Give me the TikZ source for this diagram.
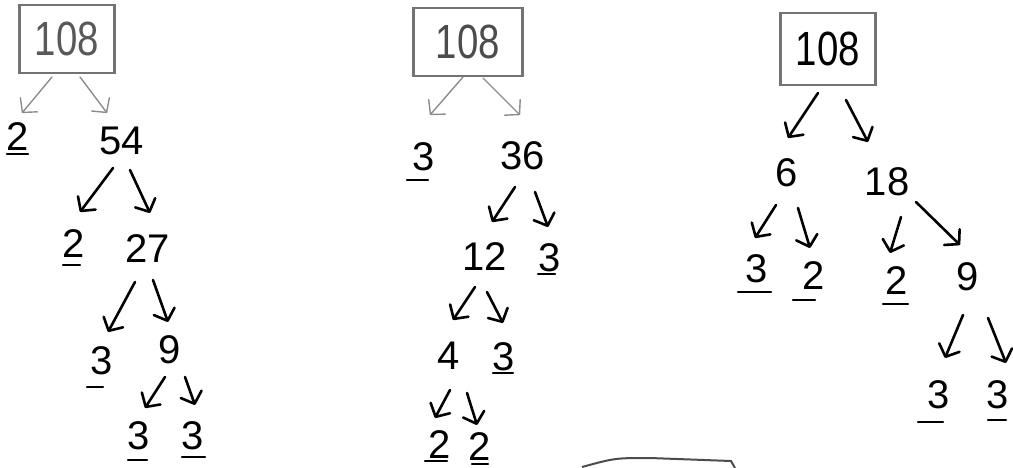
\documentclass[tikz,border=0pt]{standalone}
\usepackage{fontspec}
\setmainfont{Liberation Sans}
\newfontfamily\boxfont[FakeStretch=0.8]{Liberation Sans}
\usetikzlibrary{arrows.meta, calc}

\begin{document}
\begin{tikzpicture}[x=1pt, y=-1pt,
  num/.style={font=\fontsize{40}{40}\selectfont, inner sep=0pt},
  topbox/.style={draw=black!55, line width=2.4pt, font=\boxfont\fontsize{48}{48}\selectfont, minimum width=95pt, minimum height=68pt, inner sep=0pt},
  arr/.style={draw=black, line width=2.6pt, line cap=round, -{Straight Barb[round, length=10pt, width=22pt]}},
  faint/.style={arr, draw=black!45, line width=1.4pt},
  uline/.style={draw=black, line width=2.4pt, line cap=round},
  edge/.style={draw=black!70, line width=2pt}]
  \useasboundingbox (0,0) rectangle (1013,468);
  \clip (0,0) rectangle (1013,468);
  % first tree
  \node[topbox, text=black!65] (b1) at (67,39) {108};
  \node[num] (p2a) at (18,137) {2};
  \node[num] (n54) at (122,141) {54};
  \node[num] (p2b) at (74,244) {2};
  \node[num] (n27) at (148,249) {27};
  \node[num] (p3a) at (102,361) {3};
  \node[num] (n9a) at (170,350) {9};
  \node[num] (p3b) at (139,436) {3};
  \node[num] (p3c) at (193,436) {3};
  \draw[faint] ($(b1)+(-15,38)$) -- ($(p2a)+(4,-24)$);
  \draw[faint] ($(b1)+(13,38)$) -- ($(n54)+(-15,-28)$);
  \draw[arr] ($(n54)+(-9,27)$) -- ($(p2b)+(6,-32)$);
  \draw[arr] ($(n54)+(8,29)$) -- ($(n27)+(2,-36)$);
  \draw[arr] ($(n27)+(-13,33)$) -- ($(p3a)+(6,-29)$);
  \draw[arr] ($(n27)+(5,31)$) -- ($(n9a)+(-2,-28)$);
  \draw[arr] ($(n9a)+(-5,27)$) -- ($(p3b)+(6,-28)$);
  \draw[arr] ($(n9a)+(15,27)$) -- ($(p3c)+(2,-31)$);
  % second tree
  \node[topbox, text=black!70, minimum width=109pt] (b2) at (468,42) {108};
  \node[num] (p3d) at (424,157) {3};
  \node[num] (n36) at (523,156) {36};
  \node[num] (n12) at (485,257) {12};
  \node[num] (p3e) at (550,258) {3};
  \node[num] (n4) at (449,356) {4};
  \node[num] (p3f) at (504,357) {3};
  \node[num] (p2c) at (440,445) {2};
  \node[num] (p2d) at (480,447) {2};
  \draw[faint] ($(b2)+(-5,35)$) -- ($(p3d)+(6,-42)$);
  \draw[faint] ($(b2)+(15,36)$) -- ($(n36)+(-3,-41)$);
  \draw[arr] ($(n36)+(-8,31)$) -- ($(n12)+(7,-35)$);
  \draw[arr] ($(n36)+(12,36)$) -- ($(p3e)+(-2,-31)$);
  \draw[arr] ($(n12)+(-10,30)$) -- ($(n4)+(4,-36)$);
  \draw[arr] ($(n12)+(2,35)$) -- ($(p3f)+(-1,-34)$);
  \draw[arr] ($(n4)+(1,34)$) -- ($(p2c)+(-5,-27)$);
  \draw[arr] ($(n4)+(18,37)$) -- ($(p2d)+(-3,-22)$);
  % third tree
  \node[topbox, minimum height=72pt] (b3) at (828,49) {108};
  \node[num] (n6) at (787,173) {6};
  \node[num] (n18) at (887,182) {18};
  \node[num] (p3g) at (757,269) {3};
  \node[num] (p2e) at (814,276) {2};
  \node[num] (p2f) at (897,281) {2};
  \node[num] (n9b) at (968,277) {9};
  \node[num] (p3h) at (939,395) {3};
  \node[num] (p3i) at (998,395) {3};
  \draw[arr] ($(b3)+(-10,44)$) -- ($(n6)+(1,-35)$);
  \draw[arr] ($(b3)+(18,51)$) -- ($(n18)+(-19,-40)$);
  \draw[arr] ($(n6)+(-11,32)$) -- ($(p3g)+(-2,-31)$);
  \draw[arr] ($(n6)+(11,35)$) -- ($(p2e)+(-4,-28)$);
  \draw[arr] ($(n18)+(14,35)$) -- ($(p2f)+(-7,-28)$);
  \draw[arr] ($(n18)+(29,20)$) -- ($(n9b)+(-8,-32)$);
  \draw[arr] ($(n9b)+(-5,38)$) -- ($(p3h)+(6,-37)$);
  \draw[arr] ($(n9b)+(20,41)$) -- ($(p3i)+(8,-32)$);
  % primes underlined
  \foreach \n/\a/\b/\y in {p2a/-11/10/17, p2b/-11/6/21, p3a/-15/1/26, p3b/-11/8/24, p3c/-11/12/21,
      p3d/-17/4/23, p3e/-12/5/16, p3f/-11/9/16, p2c/-15/7/16, p2d/-8/8/17,
      p3g/-19/14/23, p2e/-21/1/24, p2f/-14/11/23, p3h/-21/4/27, p3i/-10/8/25}
    {\draw[uline] ($(\n)+(\a,\y)$) -- ($(\n)+(\b,\y)$);}
  % edge of a box below
  \coordinate (cut) at (582,467);
  \draw[edge] (cut) .. controls (615,458) .. (650,458) -- (731,461) -- (735,468);
\end{tikzpicture}
\end{document}
